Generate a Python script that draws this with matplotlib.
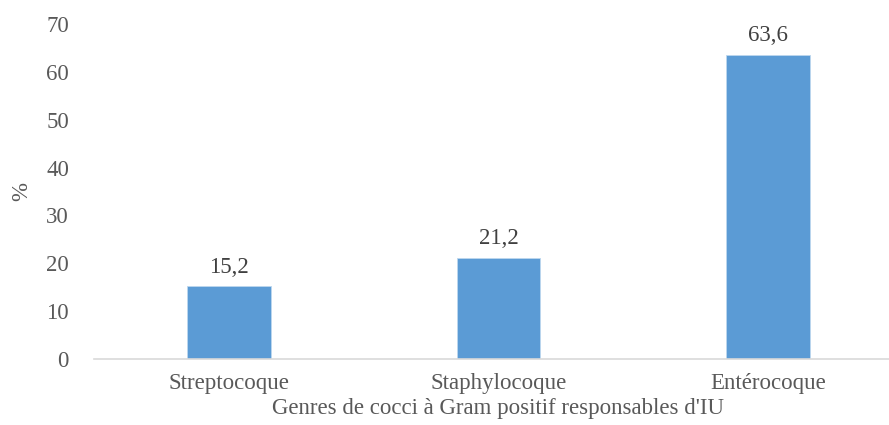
import matplotlib.pyplot as plt

genres = ["Streptocoque", "Staphylocoque", "Entérocoque"]
pourcentages = [15.2, 21.2, 63.6]
etiquettes = ["15,2", "21,2", "63,6"]
graduations = [0, 10, 20, 30, 40, 50, 60, 70]

plt.rcParams['font.family'] = ['Liberation Serif', 'DejaVu Serif']

fig = plt.figure(figsize=(8.89, 4.25), dpi=100)
ax = fig.add_axes([94 / 889, 1 - 359 / 425, 809 / 889, (359 - 24) / 425])

x = range(len(genres))
bars = ax.bar(x, pourcentages, width=0.31, color="#5B9BD5", edgecolor="#BDD7EE", linewidth=0.6, zorder=2)

for b, lab in zip(bars, etiquettes):
    ax.annotate(lab, (b.get_x() + b.get_width() / 2, b.get_height()),
                xytext=(0, 6), textcoords="offset points",
                ha="center", va="bottom", fontsize=16.5, color="#404040")

ax.set_xlim(-0.5, 2.5)
ax.set_ylim(0, 70)
ax.set_yticks(graduations)
ax.set_xticks(list(x))
ax.set_xticklabels(genres)
ax.tick_params(axis="both", length=0, labelsize=16.5, colors="#595959")
ax.tick_params(axis="y", pad=18)
ax.tick_params(axis="x", pad=10)

for s in ["top", "right", "left"]:
    ax.spines[s].set_visible(False)
ax.spines["bottom"].set_color("#D9D9D9")
ax.spines["bottom"].set_linewidth(1.2)

ax.set_xlabel("Genres de cocci à Gram positif responsables d'IU", fontsize=16.5, color="#595959", labelpad=3)
ax.set_ylabel("%", fontsize=16.5, color="#595959", labelpad=10)

fig.savefig("out.png", dpi=100)
